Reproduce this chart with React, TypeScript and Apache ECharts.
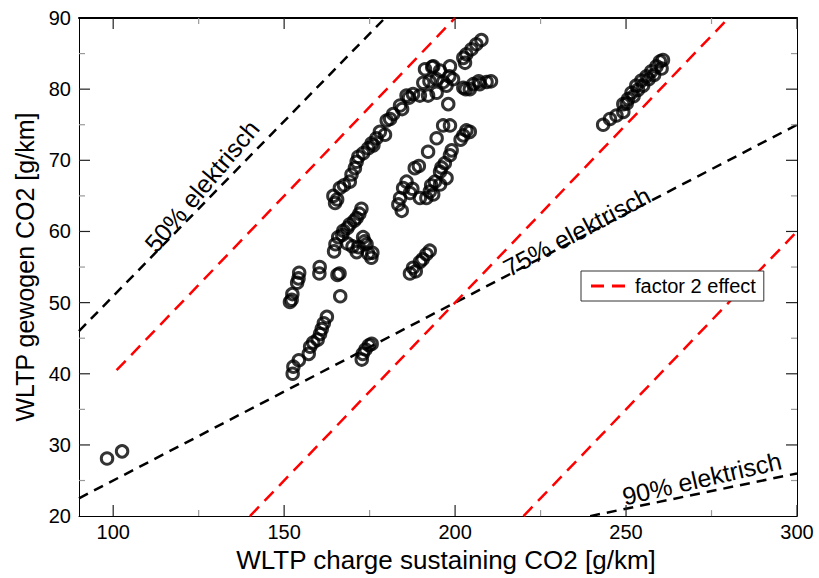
import React, { useEffect, useRef } from 'react';
import * as echarts from 'echarts';

const X_MIN = 90;
const X_MAX = 300;
const Y_MIN = 20;
const Y_MAX = 90;
const xMajorTicks = [100, 150, 200, 250, 300];
const xMinorTicks = [125, 175, 225, 275];
const yMajorTicks = [30, 40, 50, 60, 70, 80];
const yMinorTicks = [25, 35, 45, 55, 65, 75, 85];

// scatter clusters [charge sustaining CO2, weighted CO2]
const pointsLow = [[98.2, 28.1], [102.6, 29.1]];
const clusterB = [
  [152.5, 40.0], [152.7, 41.0], [154.3, 41.9], [157.2, 42.8], [157.6, 43.8], [158.5, 44.4],
  [159.8, 44.8], [160.5, 45.6], [161.0, 46.3], [161.6, 47.1], [162.5, 48.0],
];
const clusterC = [[151.7, 50.1], [152.2, 50.4], [152.4, 51.2], [153.8, 52.8], [154.2, 53.4], [154.4, 54.2]];
const clusterD = [[160.3, 54.1], [160.4, 55.0], [165.6, 53.9], [166.2, 54.1], [166.4, 50.9]];
const clusterF = [[172.7, 42.0], [173.0, 42.8], [173.8, 43.4], [174.8, 44.0], [175.6, 44.2]];
const clusterE = [
  [164.6, 57.2], [165.0, 58.2], [165.8, 59.2], [167.0, 59.5], [167.3, 60.1], [168.5, 60.5],
  [169.2, 61.0], [170.5, 61.5], [171.2, 61.9], [172.0, 62.5], [172.6, 63.2], [170.0, 57.9],
  [171.2, 57.1], [171.8, 57.8], [173.1, 59.2], [173.5, 58.6], [174.1, 58.2], [174.6, 56.9],
  [175.5, 56.3], [175.8, 57.0], [168.5, 58.3],
];
const clusterG = [
  [164.9, 64.0], [164.4, 65.0], [165.5, 64.5], [166.3, 66.1], [167.5, 66.5], [169.2, 67.0],
  [169.7, 68.0], [170.7, 68.9], [171.2, 69.8], [171.7, 70.5], [173.1, 71.0], [174.6, 71.7],
  [175.6, 72.4], [176.1, 72.1], [177.0, 73.1], [178.0, 74.0], [179.5, 73.6], [180.0, 75.6],
  [181.0, 75.8], [181.9, 76.5], [183.9, 77.7], [184.5, 77.2], [185.8, 79.1], [186.5, 78.8],
  [187.7, 79.3], [189.7, 79.1], [190.7, 80.9], [191.2, 82.8], [192.1, 79.1], [192.5, 81.1],
  [193.3, 83.1], [193.6, 83.2], [194.6, 81.4], [194.6, 79.5], [195.6, 82.6], [196.5, 81.0],
  [197.5, 80.5], [198.5, 83.2], [198.3, 81.8], [199.4, 81.4], [198.0, 77.9],
];
const clusterH = [
  [196.5, 74.9], [198.5, 74.9], [194.6, 73.1], [192.1, 71.2], [189.4, 69.2], [188.2, 68.9],
  [185.8, 67.0], [184.8, 66.1], [183.9, 64.7], [183.4, 63.8], [184.4, 62.9], [186.8, 65.4],
  [187.5, 66.0], [189.7, 64.7], [191.6, 64.7], [192.6, 65.6], [193.6, 65.2], [194.1, 67.0],
  [195.6, 66.6], [195.6, 68.4], [197.5, 67.5], [197.0, 69.6], [198.5, 70.7], [199.0, 71.4],
  [196.0, 69.0], [193.0, 66.5],
];
const clusterI = [[186.8, 54.1], [187.7, 54.9], [188.5, 54.4], [189.7, 55.7], [190.5, 56.1], [191.6, 56.8], [192.6, 57.3]];
const clusterJ = [
  [202.4, 84.4], [202.9, 83.7], [203.3, 84.9], [204.8, 85.6], [206.2, 86.3], [207.7, 86.9],
  [202.4, 80.2], [203.1, 80.0], [204.3, 80.0], [205.3, 80.7], [206.9, 81.1], [207.2, 80.7],
  [209.2, 81.0], [210.5, 81.1], [201.6, 72.9], [202.4, 73.5], [203.3, 74.2], [204.3, 74.0],
];
const clusterK = [
  [243.3, 75.0], [245.3, 75.8], [247.2, 76.3], [249.2, 76.8], [249.2, 77.9], [250.2, 78.0],
  [250.6, 78.6], [251.6, 79.5], [252.2, 79.0], [253.0, 80.5], [253.5, 79.9], [254.5, 81.2],
  [255.0, 80.5], [256.0, 81.8], [256.6, 81.4], [257.4, 82.5], [258.2, 82.0], [258.9, 83.2],
  [259.9, 83.9], [260.4, 82.9], [260.8, 84.1],
];

// reference lines
const line50 = [[90, 46], [179.5, 90]];
const line75 = [[90, 22.5], [300, 75]];
const line90 = [[239.5, 20], [300, 26]];
const factor2a = [[101, 40.5], [200, 90]];
const factor2b = [[140, 20], [280, 90]];
const factor2c = [[220, 20], [300, 60]];

const annotations = [
  { text: '50% elektrisch', x: 125.9, y: 66.4, angle: 50 },
  { text: '75% elektrisch', x: 235.6, y: 60.0, angle: 28 },
  { text: '90% elektrisch', x: 272.2, y: 25.3, angle: 13 },
];

const FONT = '"Liberation Sans", Arial, Helvetica, sans-serif';

export default function App() {
  const ref = useRef<HTMLDivElement>(null);
  useEffect(() => {
    const chart = echarts.init(ref.current!, null, { renderer: 'svg' });
    const gridBox = { left: 79, right: 22, top: 18, bottom: 56 };
    const allPoints = [
      ...pointsLow, ...clusterB, ...clusterC, ...clusterD, ...clusterF, ...clusterE,
      ...clusterG, ...clusterH, ...clusterI, ...clusterJ, ...clusterK,
    ];
    // tick code: side 0 bottom, 1 top, 2 left, 3 right; +4 for minor
    const tickData = [
      ...xMajorTicks.flatMap((v) => [[v, 0], [v, 1]]),
      ...xMinorTicks.flatMap((v) => [[v, 4], [v, 5]]),
      ...yMajorTicks.flatMap((v) => [[v, 2], [v, 3]]),
      ...yMinorTicks.flatMap((v) => [[v, 6], [v, 7]]),
    ];
    const blackDash = (data: number[][]) => ({
      type: 'line', xAxisIndex: 0, yAxisIndex: 0, data, symbol: 'none', silent: true,
      lineStyle: { color: '#000', width: 2.5, type: [10, 7] }, z: 2,
    });
    const redDash = (data: number[][]) => ({
      type: 'line', name: 'factor 2 effect', xAxisIndex: 0, yAxisIndex: 0, data, symbol: 'none', silent: true,
      lineStyle: { color: '#ff0000', width: 2.5, type: [13, 8] }, itemStyle: { color: '#ff0000' }, z: 2,
    });
    const option: any = {
      animation: false,
      backgroundColor: '#fff',
      grid: { ...gridBox, containLabel: false },
      legend: {
        show: true,
        data: [{ name: 'factor 2 effect', icon: 'path://M0,0h13v3h-13zM21,0h13v3h-13z' }],
        left: 581,
        top: 271,
        itemWidth: 34,
        itemHeight: 3,
        padding: [5, 8, 5, 10],
        borderColor: '#333',
        borderWidth: 1,
        borderRadius: 0,
        backgroundColor: '#fff',
        selectedMode: false,
        itemStyle: { color: '#ff0000', borderWidth: 0 },
        textStyle: { fontSize: 20, color: '#000', fontFamily: FONT, padding: [0, 0, 0, 5] },
      },
      xAxis: [
        {
          type: 'value', min: X_MIN, max: X_MAX, splitLine: { show: false }, position: 'bottom',
          axisLine: { show: true, onZero: false, lineStyle: { color: '#000', width: 1 } },
          axisTick: { show: false },
          axisLabel: { show: true, customValues: xMajorTicks, fontSize: 20, color: '#000', fontFamily: FONT, margin: 6 },
          name: 'WLTP charge sustaining CO2 [g/km]',
          nameLocation: 'middle',
          nameGap: 27,
          nameTextStyle: { fontSize: 26, color: '#000', fontFamily: FONT, padding: [0, 0, 0, 16] },
        },
        {
          type: 'value', min: X_MIN, max: X_MAX, splitLine: { show: false }, position: 'top',
          axisLine: { show: true, onZero: false, lineStyle: { color: '#000', width: 2 } },
          axisTick: { show: false },
          axisLabel: { show: false },
        },
      ],
      yAxis: [
        {
          type: 'value', position: 'left', min: Y_MIN, max: Y_MAX, interval: 10,
          splitLine: { show: false },
          axisLine: { show: true, onZero: false, lineStyle: { color: '#000', width: 1 } },
          axisTick: { show: false },
          axisLabel: { show: true, fontSize: 20, color: '#000', fontFamily: FONT, margin: 8 },
          name: 'WLTP gewogen CO2 [g/km]',
          nameLocation: 'middle',
          nameGap: 40,
          nameTextStyle: { fontSize: 25, color: '#000', fontFamily: FONT },
        },
        {
          type: 'value', position: 'right', min: Y_MIN, max: Y_MAX, interval: 10,
          splitLine: { show: false },
          axisLine: { show: true, onZero: false, lineStyle: { color: '#000', width: 1 } },
          axisTick: { show: false },
          axisLabel: { show: false },
        },
      ],
      series: [
        {
          type: 'custom', xAxisIndex: 0, yAxisIndex: 0, data: tickData, clip: false, silent: true, z: 5,
          renderItem: (_params: any, api: any) => {
            const v = api.value(0);
            const code = api.value(1);
            const major = code < 4;
            const side = code % 4;
            const len = major ? 11 : 6;
            let p: number[];
            let x2: number;
            let y2: number;
            if (side === 0) { p = api.coord([v, Y_MIN]); x2 = p[0]; y2 = p[1] - len; }
            else if (side === 1) { p = api.coord([v, Y_MAX]); x2 = p[0]; y2 = p[1] + len; }
            else if (side === 2) { p = api.coord([X_MIN, v]); x2 = p[0] + len; y2 = p[1]; }
            else { p = api.coord([X_MAX, v]); x2 = p[0] - len; y2 = p[1]; }
            return {
              type: 'line',
              shape: { x1: p[0], y1: p[1], x2, y2 },
              style: { stroke: major ? '#222' : '#999', lineWidth: 1.2 },
            };
          },
        },
        blackDash(line50),
        blackDash(line75),
        blackDash(line90),
        redDash(factor2a),
        redDash(factor2b),
        redDash(factor2c),
        {
          type: 'scatter', xAxisIndex: 0, yAxisIndex: 0, data: allPoints, symbol: 'circle', symbolSize: 11.5,
          itemStyle: { color: 'rgba(0,0,0,0)', borderColor: '#000', borderWidth: 3 }, z: 3,
        },
      ],
    };
    chart.setOption(option);
    const graphic = annotations.map((a) => {
      const [px, py] = chart.convertToPixel({ xAxisIndex: 0, yAxisIndex: 0 }, [a.x, a.y]) as number[];
      return {
        type: 'text', x: px, y: py, rotation: (a.angle * Math.PI) / 180, z: 10,
        style: { text: a.text, fontSize: 25, fontFamily: FONT, fill: '#000', align: 'center', verticalAlign: 'middle' },
      };
    });
    chart.setOption({ graphic });
    return () => chart.dispose();
  }, []);
  return <div ref={ref} style={{ position: 'absolute', left: 0, top: 0, width: 819, height: 578 }} />;
}
